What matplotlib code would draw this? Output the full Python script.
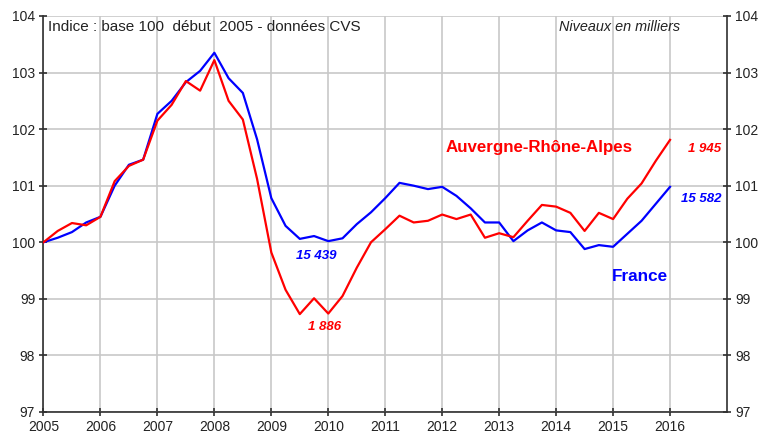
import matplotlib
matplotlib.use("Agg")
import matplotlib.pyplot as plt
import numpy as np

plt.rcParams['font.family'] = ['Liberation Sans', 'DejaVu Sans']

start_year = 2005
quarters_per_year = 4

ara = [100.0, 100.2, 100.34, 100.3, 100.45, 101.08, 101.35, 101.46,
       102.15, 102.43, 102.85, 102.68, 103.22, 102.5, 102.17, 101.12,
       99.82, 99.16, 98.73, 99.01, 98.74, 99.05, 99.55, 100.0,
       100.23, 100.47, 100.35, 100.38, 100.49, 100.41, 100.49, 100.08,
       100.16, 100.09, 100.38, 100.66, 100.63, 100.52, 100.2, 100.52,
       100.41, 100.77, 101.04, 101.44, 101.81]
france = [100.0, 100.08, 100.18, 100.35, 100.45, 101.0, 101.37, 101.46,
          102.27, 102.5, 102.83, 103.03, 103.35, 102.9, 102.64, 101.82,
          100.78, 100.29, 100.06, 100.11, 100.02, 100.07, 100.32, 100.53,
          100.78, 101.05, 101.0, 100.94, 100.98, 100.82, 100.6, 100.35,
          100.35, 100.02, 100.21, 100.35, 100.21, 100.18, 99.88, 99.95,
          99.92, 100.15, 100.38, 100.68, 100.98]

years = list(range(2005, 2017))
yticks = [97, 98, 99, 100, 101, 102, 103, 104]

t = start_year + np.arange(len(ara)) / quarters_per_year

fig = plt.figure(figsize=(7.6, 4.38), dpi=100)
ax = fig.add_axes([0.0572, 0.0594, 0.8994, 0.9041])

ax.set_xlim(2005, 2017)
ax.set_ylim(97, 104)
ax.set_xticks(years)
ax.set_xticklabels([str(y) for y in years])
ax.set_yticks(yticks)
ax.set_yticklabels([str(v) for v in yticks])

ax.grid(True, color='#c8c8c8', linewidth=1.2)
ax.set_axisbelow(True)

ax.plot(t, france, color='#0000ff', linewidth=1.6, zorder=3)
ax.plot(t, ara, color='#ff0000', linewidth=1.6, zorder=4)

for side in ['left', 'bottom', 'right']:
    ax.spines[side].set_color('#303030')
    ax.spines[side].set_linewidth(1.2)
ax.spines['top'].set_visible(False)

ax.tick_params(axis='both', direction='inout', length=6, width=1.2, color='#303030',
               labelsize=10, labelcolor='#222222')
ax.tick_params(axis='y', labelleft=True, labelright=True, left=True, right=True, pad=3)
ax.tick_params(axis='x', pad=3)

ax.text(2005.08, 103.8, "Indice : base 100  début  2005 - données CVS", fontsize=11,
        color='#222222', ha='left', va='center')
ax.text(2016.17, 103.8, "Niveaux en milliers", fontsize=10.4, style='italic',
        color='#222222', ha='right', va='center')
ax.text(2013.71, 101.68, "Auvergne-Rhône-Alpes", fontsize=12.2, fontweight='bold',
        color='#ff0000', ha='center', va='center')
ax.text(2016.61, 101.64, "1 945", fontsize=9.5, fontweight='bold', style='italic',
        color='#ff0000', ha='center', va='center')
ax.text(2016.54, 100.77, "15 582", fontsize=9.5, fontweight='bold', style='italic',
        color='#0000ff', ha='center', va='center')
ax.text(2009.79, 99.75, "15 439", fontsize=9.5, fontweight='bold', style='italic',
        color='#0000ff', ha='center', va='center')
ax.text(2009.93, 98.5, "1 886", fontsize=9.5, fontweight='bold', style='italic',
        color='#ff0000', ha='center', va='center')
ax.text(2015.47, 99.4, "France", fontsize=12.3, fontweight='bold',
        color='#0000ff', ha='center', va='center')

fig.savefig("out.png", dpi=100)
